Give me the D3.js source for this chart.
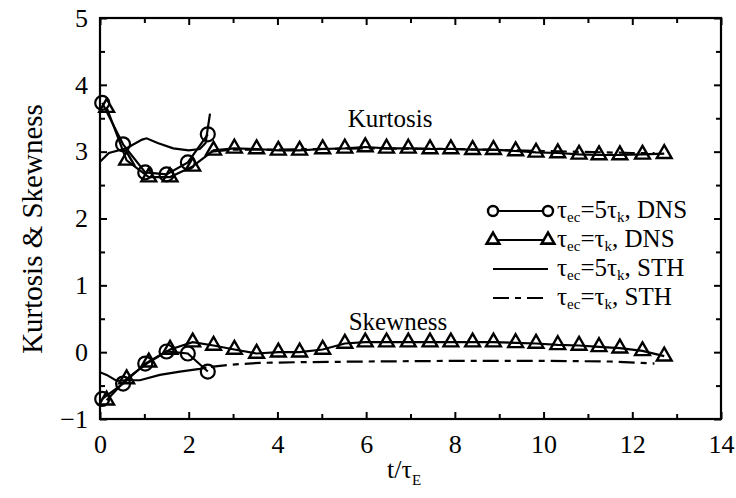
<!DOCTYPE html>
<html>
<head>
<meta charset="utf-8">
<script src="https://cdn.jsdelivr.net/npm/d3@7"></script>
<style>
  body { margin: 0; background: white; }
  svg { display: block; }
  svg text { font-family: "Liberation Serif", "Times New Roman", "DejaVu Serif", serif; }
</style>
</head>
<body>
<svg id="chart" width="736" height="498"></svg>
<script>
// DNS, tau_ec = 5 tau_k (circles)
const circT = [0.05, 0.52, 1.02, 1.5, 1.98, 2.43];
const circKurt = [3.73, 3.11, 2.69, 2.66, 2.84, 3.26];
const circSkew = [-0.70, -0.47, -0.17, 0.01, -0.02, -0.29];

// DNS, tau_ec = tau_k (triangles)
const triT = [0.15, 0.6, 1.1, 1.58, 2.09, 2.56, 3.03, 3.53, 4.02, 4.5, 5.02, 5.52, 5.98, 6.46,
  6.95, 7.44, 7.91, 8.4, 8.87, 9.37, 9.83, 10.32, 10.8, 11.25, 11.72, 12.23, 12.72];
const triKurt = [3.66, 2.87, 2.62, 2.62, 2.78, 3.02, 3.05, 3.04, 3.02, 3.02, 3.04, 3.05, 3.07, 3.05,
  3.05, 3.04, 3.04, 3.03, 3.03, 3.01, 2.99, 2.98, 2.96, 2.95, 2.95, 2.96, 2.97];
const triSkew = [-0.72, -0.40, -0.15, 0.04, 0.15, 0.10, 0.04, -0.02, 0.0, 0.0, 0.04, 0.13, 0.15, 0.15,
  0.15, 0.15, 0.15, 0.15, 0.15, 0.14, 0.13, 0.11, 0.10, 0.08, 0.06, 0.02, -0.06];

// STH, tau_ec = 5 tau_k (solid)
const sth5KurtT = [0, 0.2, 0.6, 0.95, 1.05, 1.3, 1.65, 2.0, 2.25, 2.38, 2.48];
const sth5Kurt = [2.85, 2.98, 3.05, 3.18, 3.2, 3.13, 3.05, 3.02, 3.04, 3.13, 3.57];
const sth5SkewT = [0, 0.15, 0.38, 0.6, 0.9, 1.35, 1.8, 2.25, 2.4];
const sth5Skew = [-0.30, -0.34, -0.43, -0.42, -0.42, -0.34, -0.29, -0.25, -0.23];

// STH, tau_ec = tau_k (dashed)
const sth1KurtT = [2.5, 3, 4, 6, 8, 10, 12, 12.5];
const sth1Kurt = [3.0, 3.03, 3.03, 3.05, 3.04, 3.01, 2.98, 2.98];
const sth1SkewT = [2.5, 2.9, 3.6, 4.5, 6, 8, 10, 11.5, 12.2, 12.5];
const sth1Skew = [-0.22, -0.19, -0.16, -0.15, -0.14, -0.13, -0.13, -0.14, -0.16, -0.17];

const xTicks = [0, 2, 4, 6, 8, 10, 12, 14];
const yTicks = [-1, 0, 1, 2, 3, 4, 5];

const svg = d3.select("#chart");
const pLeft = 100, pRight = 721, pTop = 18, pBottom = 419;

let x = d3.scaleLinear().domain([0, 14]).range([pLeft, pRight]);
let y = d3.scaleLinear().domain([-1, 5]).range([pBottom, pTop]);

const zip = (a, b) => a.map((v, i) => [v, b[i]]);

// axes: major ticks with labels, minor ticks, all pointing inward
let fmt = d => d < 0 ? "\u2212" + Math.abs(d) : d;
let minorX = d3.range(1, 14, 2);
let minorY = d3.range(-0.5, 5, 1);

function drawAxis(axis, tr, labels) {
  let g = svg.append("g").attr("transform", tr).call(axis);
  g.select(".domain").remove();
  g.attr("font-family", null);
  g.selectAll("line").attr("stroke", "#000").attr("stroke-width", 2);
  if (!labels) g.selectAll("text").remove();
  return g;
}

let gx = drawAxis(d3.axisBottom(x).tickValues(xTicks).tickSize(-7).tickPadding(16).tickFormat(fmt),
  `translate(0,${pBottom})`, true);
drawAxis(d3.axisBottom(x).tickValues(minorX).tickSize(-5), `translate(0,${pBottom})`, false);
drawAxis(d3.axisTop(x).tickValues(xTicks).tickSize(-7), `translate(0,${pTop})`, false);
drawAxis(d3.axisTop(x).tickValues(minorX).tickSize(-5), `translate(0,${pTop})`, false);
let gy = drawAxis(d3.axisLeft(y).tickValues(yTicks).tickSize(-7).tickPadding(12).tickFormat(fmt),
  `translate(${pLeft},0)`, true);
drawAxis(d3.axisLeft(y).tickValues(minorY).tickSize(-5), `translate(${pLeft},0)`, false);
drawAxis(d3.axisRight(y).tickValues(yTicks).tickSize(-7), `translate(${pRight},0)`, false);
drawAxis(d3.axisRight(y).tickValues(minorY).tickSize(-5), `translate(${pRight},0)`, false);

svg.selectAll(".tick text")
  .attr("font-size", 26)
  .attr("fill", "#000");
gx.selectAll("text").attr("dy", "0.71em");

svg.append("rect")
  .attr("x", pLeft).attr("y", pTop)
  .attr("width", pRight - pLeft).attr("height", pBottom - pTop)
  .attr("fill", "none").attr("stroke", "#000").attr("stroke-width", 2.2);

// curves
let line = d3.line().x(d => x(d[0])).y(d => y(d[1]));

function drawLine(data, dash) {
  svg.append("path")
    .attr("d", line(data))
    .attr("fill", "none")
    .attr("stroke", "#000")
    .attr("stroke-width", 2.2)
    .attr("stroke-dasharray", dash || null);
}

const dashPat = "16,6,6,6";
drawLine(zip(sth1KurtT, sth1Kurt), dashPat);
drawLine(zip(sth1SkewT, sth1Skew), dashPat);
drawLine(zip(sth5KurtT, sth5Kurt));
drawLine(zip(sth5SkewT, sth5Skew));
drawLine(zip(triT, triKurt));
drawLine(zip(triT, triSkew));
drawLine(zip(circT, circKurt));
drawLine(zip(circT, circSkew));

let triSym = d3.symbol().type(d3.symbolTriangle).size(95);

function drawTriangles(data) {
  svg.append("g").selectAll("path")
    .data(data)
    .enter().append("path")
    .attr("d", triSym)
    .attr("transform", d => `translate(${x(d[0])},${y(d[1])})`)
    .attr("fill", "none")
    .attr("stroke", "#000")
    .attr("stroke-width", 2.4);
}

function drawCircles(data) {
  svg.append("g").selectAll("circle")
    .data(data)
    .enter().append("circle")
    .attr("cx", d => x(d[0]))
    .attr("cy", d => y(d[1]))
    .attr("r", 7)
    .attr("fill", "none")
    .attr("stroke", "#000")
    .attr("stroke-width", 2.2);
}

drawTriangles(zip(triT, triKurt));
drawTriangles(zip(triT, triSkew));
drawCircles(zip(circT, circKurt));
drawCircles(zip(circT, circSkew));

// labels
svg.append("text")
  .attr("x", 390).attr("y", 127)
  .attr("text-anchor", "middle")
  .attr("font-size", 25)
  .text("Kurtosis");

svg.append("text")
  .attr("x", 398).attr("y", 330)
  .attr("text-anchor", "middle")
  .attr("font-size", 25)
  .text("Skewness");

svg.append("text")
  .attr("transform", `translate(42,229) rotate(-90)`)
  .attr("text-anchor", "middle")
  .attr("font-size", 29)
  .text("Kurtosis & Skewness");

let xl = svg.append("text")
  .attr("x", 387).attr("y", 478)
  .attr("font-size", 26);
xl.append("tspan").text("t/\u03c4");
xl.append("tspan").attr("font-size", 15).attr("dy", 7).text("E");

// legend: one text per row, subscripts as shifted tspans
const legendRows = [
  { sym: "circle", dash: null, mid: "=5\u03c4", rest: ", DNS" },
  { sym: "triangle", dash: null, mid: "=\u03c4", rest: ", DNS" },
  { sym: null, dash: null, mid: "=5\u03c4", rest: ", STH" },
  { sym: null, dash: "16,6,6,6", mid: "=\u03c4", rest: ", STH" }
];
const legendY = [211, 240, 269, 298];
let lx0 = 493, lx1 = 548, tx = 557;

legendRows.forEach(function (r, i) {
  let ly = legendY[i];
  svg.append("line")
    .attr("x1", lx0).attr("x2", lx1).attr("y1", ly).attr("y2", ly)
    .attr("stroke", "#000").attr("stroke-width", 2.2)
    .attr("stroke-dasharray", r.dash);
  if (r.sym === "circle") {
    [lx0, lx1].forEach(function (cx) {
      svg.append("circle").attr("cx", cx).attr("cy", ly).attr("r", 5)
        .attr("fill", "white").attr("stroke", "#000").attr("stroke-width", 2.4);
    });
  } else if (r.sym === "triangle") {
    [lx0, lx1].forEach(function (cx) {
      svg.append("path").attr("d", d3.symbol().type(d3.symbolTriangle).size(70)())
        .attr("transform", `translate(${cx},${ly})`)
        .attr("fill", "white").attr("stroke", "#000").attr("stroke-width", 2.6);
    });
  }
  let t = svg.append("text").attr("x", tx).attr("y", ly + 7).attr("font-size", 25);
  t.append("tspan").text("\u03c4");
  t.append("tspan").attr("font-size", 15).attr("dy", 4).text("ec");
  t.append("tspan").attr("dy", -4).text(r.mid);
  t.append("tspan").attr("font-size", 15).attr("dy", 4).text("k");
  t.append("tspan").attr("dy", -4).text(r.rest);
});
</script>
</body>
</html>
